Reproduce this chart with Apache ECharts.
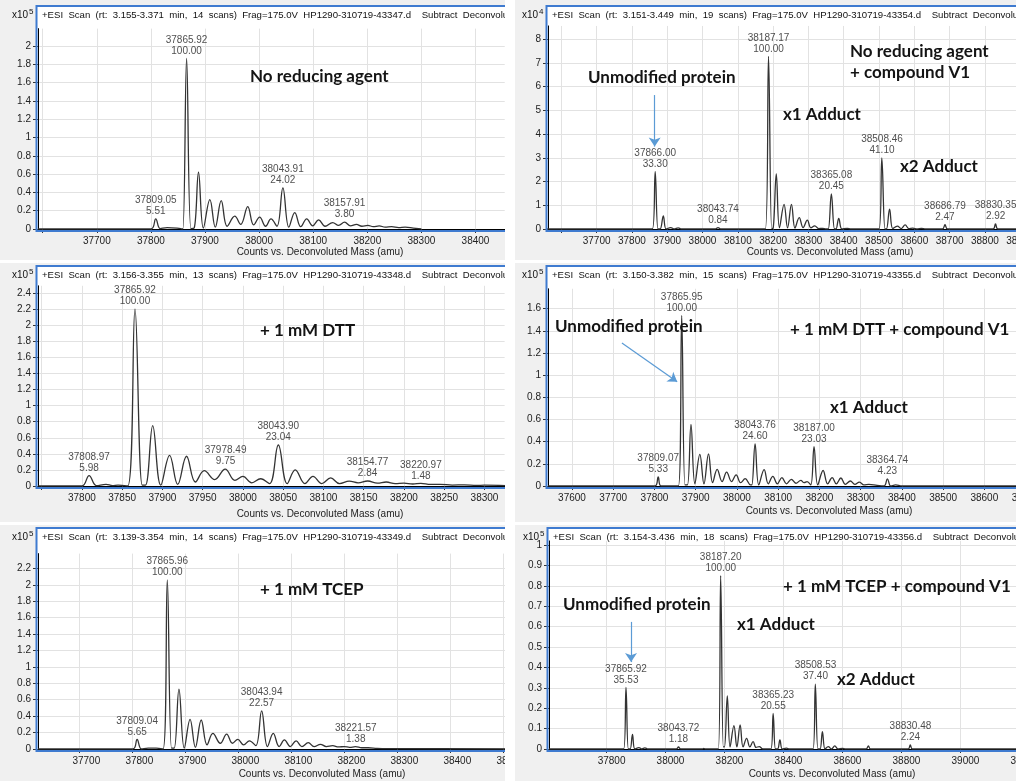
<!DOCTYPE html>
<html>
<head>
<meta charset="utf-8">
<title>Deconvoluted mass spectra</title>
<style>
  body { margin: 0; width: 1016px; height: 781px; background: #fff; position: relative; overflow: hidden; }
  .panel { position: absolute; background: #f0f0f0; overflow: hidden; }
  .panel > div { position: absolute; left: 0; top: 0; }
</style>
</head>
<body>
<div class="panel" id="p1" style="left:0;top:0;width:505px;height:260px"></div>
<div class="panel" id="p2" style="left:515px;top:0;width:501px;height:260px"></div>
<div class="panel" id="p3" style="left:0;top:263px;width:505px;height:259px"></div>
<div class="panel" id="p4" style="left:515px;top:263px;width:501px;height:259px"></div>
<div class="panel" id="p5" style="left:0;top:525px;width:505px;height:256px"></div>
<div class="panel" id="p6" style="left:515px;top:525px;width:501px;height:256px"></div>

<script src="https://cdn.jsdelivr.net/npm/echarts/dist/echarts.min.js"></script>
<script>
// spectra: [mass (amu), counts]
// no reducing agent (x10^5)
const specNoRed = [[37591,0],[37800,0],[37809,0.11],[37817,0.005],[37830,0.015],[37855,0.005],[37859,0],[37866,1.865],[37874,0.005],[37880,0.01],[37888,0.62],[37897,0.01],[37909,0.32],[37919,0.02],[37930,0.31],[37941,0.03],[37955,0.14],[37966,0.05],[37979,0.245],[37990,0.045],[38001,0.13],[38012,0.03],[38022,0.11],[38033,0.03],[38044,0.45],[38055,0.02],[38066,0.18],[38077,0.025],[38088,0.11],[38099,0.035],[38110,0.10],[38122,0.03],[38136,0.07],[38147,0.04],[38158,0.075],[38169,0.035],[38180,0.05],[38190,0.03],[38201,0.04],[38211,0.025],[38222,0.035],[38233,0.02],[38245,0.025],[38258,0.015],[38270,0.02],[38285,0.01],[38300,0]];
// no reducing agent + compound V1 (x10^4)
const specNoRedV1 = [[37555,0],[37858,0],[37866,2.42],[37874,0],[37880,0],[37889,0.55],[37897,0],[37910,0.06],[37920,0],[37931,0.05],[37940,0],[38036,0],[38044,0.06],[38052,0],[38178,0],[38187,7.27],[38196,0.02],[38200,0.03],[38209,2.32],[38218,0.05],[38231,1.04],[38241,0.05],[38252,1.04],[38262,0.04],[38274,0.48],[38285,0.06],[38297,0.37],[38307,0.05],[38318,0.13],[38329,0.02],[38340,0.03],[38350,0],[38356,0],[38365,1.48],[38374,0],[38378,0],[38386,0.45],[38395,0],[38410,0.03],[38420,0],[38500,0],[38508,2.99],[38517,0],[38521,0],[38530,0.84],[38539,0.02],[38552,0.12],[38563,0.02],[38574,0.17],[38585,0.01],[38596,0.04],[38608,0],[38620,0.03],[38632,0],[38680,0],[38687,0.18],[38694,0],[38823,0],[38830,0.21],[38837,0],[38950,0]];
// + 1 mM DTT (x10^5)
const specDtt = [[37746,0],[37800,0],[37809,0.13],[37818,0.005],[37830,0.02],[37838,0.005],[37845,0.01],[37857,0],[37866,2.2],[37875,0.01],[37879,0.01],[37888,0.75],[37898,0.01],[37909,0.38],[37919,0.02],[37930,0.37],[37941,0.05],[37952,0.19],[37965,0.08],[37978,0.21],[37990,0.07],[38000,0.12],[38011,0.04],[38022,0.09],[38033,0.03],[38044,0.51],[38055,0.03],[38065,0.2],[38077,0.03],[38087,0.12],[38098,0.03],[38109,0.1],[38120,0.03],[38132,0.06],[38143,0.04],[38155,0.062],[38167,0.035],[38178,0.05],[38189,0.03],[38200,0.035],[38211,0.025],[38221,0.033],[38233,0.02],[38245,0.02],[38260,0.012],[38275,0.015],[38290,0.008],[38300,0.01],[38326,0.005]];
// + 1 mM DTT + compound V1 (x10^5)
const specDttV1 = [[37542,0],[37801,0],[37809,0.082],[37816,0],[37858,0],[37866,1.54],[37874,0.01],[37880,0.01],[37888.5,0.556],[37898,0.02],[37910,0.286],[37920,0.02],[37931,0.29],[37941,0.03],[37952,0.15],[37964,0.04],[37975,0.126],[37987,0.04],[37998,0.1],[38009,0.03],[38020,0.066],[38033,0.01],[38036,0.01],[38044,0.38],[38053,0.01],[38066,0.147],[38076,0.02],[38087,0.087],[38098,0.02],[38109,0.075],[38120,0.02],[38132,0.06],[38143,0.025],[38155,0.05],[38163,0.03],[38170,0.04],[38179,0.01],[38187,0.355],[38196,0.01],[38209,0.14],[38220,0.02],[38231,0.075],[38241,0.02],[38252,0.072],[38263,0.015],[38275,0.045],[38286,0.015],[38297,0.035],[38308,0.01],[38320,0.015],[38340,0.005],[38357,0],[38365,0.065],[38373,0],[38385,0.01],[38400,0],[38750,0]];
// + 1 mM TCEP (x10^5)
const specTcep = [[37622,0],[37801,0],[37809,0.116],[37817,0],[37830,0.01],[37845,0.01],[37858,0],[37866,2.06],[37874,0.01],[37879,0.01],[37888,0.73],[37898,0.01],[37909,0.36],[37919,0.02],[37930,0.353],[37941,0.05],[37952,0.19],[37966,0.07],[37978,0.18],[37989,0.07],[37999,0.118],[38010,0.05],[38021,0.1],[38033,0.04],[38044,0.465],[38055,0.03],[38066,0.19],[38077,0.03],[38087,0.11],[38098,0.03],[38109,0.1],[38120,0.03],[38132,0.077],[38143,0.03],[38155,0.057],[38166,0.03],[38178,0.04],[38189,0.025],[38200,0.03],[38210,0.02],[38221,0.028],[38233,0.015],[38245,0.015],[38262,0.008],[38280,0.005],[38560,0]];
// + 1 mM TCEP + compound V1 (x10^5)
const specTcepV1 = [[37605,0],[37858,0],[37866,0.302],[37874,0],[37880,0],[37888,0.072],[37896,0],[37910,0.007],[37920,0],[37930,0.006],[37940,0],[38037,0],[38044,0.01],[38051,0],[38125,0],[38130,0.003],[38135,0],[38179,0],[38187,0.85],[38196,0.01],[38200,0.01],[38209.5,0.26],[38219,0.01],[38232,0.115],[38242,0.01],[38253,0.118],[38263,0.01],[38275,0.052],[38286,0.01],[38297,0.036],[38307,0.008],[38318,0.012],[38330,0],[38357,0],[38365,0.175],[38373,0],[38380,0],[38388,0.044],[38396,0],[38410,0.004],[38420,0],[38500,0],[38508,0.318],[38517,0],[38524,0],[38532,0.085],[38541,0],[38552,0.012],[38563,0],[38574,0.015],[38585,0],[38600,0.003],[38610,0],[38680,0],[38688,0.015],[38695,0],[38823,0],[38830,0.0195],[38837,0],[39300,0]];

// labelled peaks: mass and relative abundance (%)
const peaksNoRed = [37809.05, 37865.92, 38043.91, 38157.91];
const pctNoRed = ['5.51', '100.00', '24.02', '3.80'];
const peaksNoRedV1 = [37866.00, 38043.74, 38187.17, 38365.08, 38508.46, 38686.79, 38830.35];
const pctNoRedV1 = ['33.30', '0.84', '100.00', '20.45', '41.10', '2.47', '2.92'];
const peaksDtt = [37808.97, 37865.92, 37978.49, 38043.90, 38154.77, 38220.97];
const pctDtt = ['5.98', '100.00', '9.75', '23.04', '2.84', '1.48'];
const peaksDttV1 = [37809.07, 37865.95, 38043.76, 38187.00, 38364.74];
const pctDttV1 = ['5.33', '100.00', '24.60', '23.03', '4.23'];
const peaksTcep = [37809.04, 37865.96, 38043.94, 38221.57];
const pctTcep = ['5.65', '100.00', '22.57', '1.38'];
const peaksTcepV1 = [37865.92, 38043.72, 38187.20, 38365.23, 38508.53, 38830.48];
const pctTcepV1 = ['35.53', '1.18', '100.00', '20.55', '37.40', '2.24'];

const scanInfo = [
  '+ESI  Scan  (rt:  3.155-3.371  min,  14  scans)  Frag=175.0V  HP1290-310719-43347.d    Subtract  Deconvoluted',
  '+ESI  Scan  (rt:  3.151-3.449  min,  19  scans)  Frag=175.0V  HP1290-310719-43354.d    Subtract  Deconvoluted',
  '+ESI  Scan  (rt:  3.156-3.355  min,  13  scans)  Frag=175.0V  HP1290-310719-43348.d    Subtract  Deconvoluted',
  '+ESI  Scan  (rt:  3.150-3.382  min,  15  scans)  Frag=175.0V  HP1290-310719-43355.d    Subtract  Deconvoluted',
  '+ESI  Scan  (rt:  3.139-3.354  min,  14  scans)  Frag=175.0V  HP1290-310719-43349.d    Subtract  Deconvoluted',
  '+ESI  Scan  (rt:  3.154-3.436  min,  18  scans)  Frag=175.0V  HP1290-310719-43356.d    Subtract  Deconvoluted'
];
const exponents = ['5', '4', '5', '5', '5', '5'];
const xTitle = 'Counts vs. Deconvoluted Mass (amu)';

// arrows to the unmodified protein peak, in data coordinates
const arrowNoRedV1 = [[37864.5, 5.64], [37864.5, 3.47]];
const arrowDttV1 = [[37721, 1.29], [37855, 0.94]];
const arrowTcepV1 = [[37883, 0.623], [37883, 0.426]];

// panel layout (page pixels); ppa = px per amu, ypu = px per y unit
const panels = [
  { id: 'p1', data: specNoRed, peaks: peaksNoRed, pct: pctNoRed, scan: scanInfo[0], exp: exponents[0],
    box: [0, 0, 505, 260], frameTop: 6, axisX: 38, axisY: 229,
    ref: [37866, 186.6], ppa: 0.541, xMax: 38454, xInt: 100, firstLabel: 37700, labelShift: 0,
    yMax: 2.19, ypu: 91.5, yInt: 0.2, titleAt: [320, 252], arrow: null,
    notes: [['No reducing agent', 250, 77]] },
  { id: 'p2', data: specNoRedV1, peaks: peaksNoRedV1, pct: pctNoRedV1, scan: scanInfo[1], exp: exponents[1],
    box: [515, 0, 501, 260], frameTop: 6, axisX: 548, axisY: 229,
    ref: [37866, 655.2], ppa: 0.353, xMax: 38950, xInt: 100, firstLabel: 37700, labelShift: 0,
    yMax: 8.55, ypu: 23.75, yInt: 1, titleAt: [830, 252], arrow: arrowNoRedV1,
    notes: [['Unmodified protein', 588, 78], ['No reducing agent', 850, 52], ['+ compound V1', 850, 73],
            ['x1 Adduct', 783, 115], ['x2 Adduct', 900, 167]] },
  { id: 'p3', data: specDtt, peaks: peaksDtt, pct: pctDtt, scan: scanInfo[2], exp: exponents[2],
    box: [0, 263, 505, 259], frameTop: 266, axisX: 38, axisY: 486,
    ref: [37866, 135], ppa: 0.8053, xMax: 38325, xInt: 50, firstLabel: 37800, labelShift: 0,
    yMax: 2.49, ypu: 80.4, yInt: 0.2, titleAt: [320, 514], arrow: null,
    notes: [['+ 1 mM DTT', 260, 331]] },
  { id: 'p4', data: specDttV1, peaks: peaksDttV1, pct: pctDttV1, scan: scanInfo[3], exp: exponents[3],
    box: [515, 263, 501, 259], frameTop: 266, axisX: 548, axisY: 486,
    ref: [37866, 681.7], ppa: 0.4123, xMax: 38750, xInt: 100, firstLabel: 37600, labelShift: 0,
    yMax: 1.78, ypu: 110.8, yInt: 0.2, titleAt: [829, 511], arrow: arrowDttV1,
    notes: [['Unmodified protein', 555, 327], ['+ 1 mM DTT + compound V1', 790, 330], ['x1 Adduct', 830, 408]] },
  { id: 'p5', data: specTcep, peaks: peaksTcep, pct: pctTcep, scan: scanInfo[4], exp: exponents[4],
    box: [0, 525, 505, 256], frameTop: 528, axisX: 38, axisY: 749,
    ref: [37866, 167.3], ppa: 0.53, xMax: 38560, xInt: 100, firstLabel: 37700, labelShift: 7,
    yMax: 2.38, ypu: 82.1, yInt: 0.2, titleAt: [322, 774], arrow: null,
    notes: [['+ 1 mM TCEP', 260, 590]] },
  { id: 'p6', data: specTcepV1, peaks: peaksTcepV1, pct: pctTcepV1, scan: scanInfo[5], exp: exponents[5],
    box: [515, 525, 501, 256], frameTop: 528, axisX: 549, axisY: 749,
    ref: [37866, 626], ppa: 0.2949, xMax: 39300, xInt: 200, firstLabel: 37800, labelShift: 5,
    yMax: 1.02, ypu: 204, yInt: 0.1, titleAt: [832, 774], arrow: arrowTcepV1,
    notes: [['Unmodified protein', 563, 605], ['+ 1 mM TCEP + compound V1', 783, 587],
            ['x1 Adduct', 737, 625], ['x2 Adduct', 837, 680]] }
];

const SMALL = 'Liberation Sans';
const BOLD = 'bold 17px Lato';

// height of the curve at a labelled peak
function peakHeight(data, m) {
  let best = 0;
  data.forEach(d => { if (Math.abs(d[0] - m) < 4 && d[1] > best) best = d[1]; });
  return best;
}

function buildPanel(p) {
  const [bx, by, bw, bh] = p.box;
  const xMin = p.ref[0] - (p.ref[1] - p.axisX) / p.ppa;
  const rightPx = p.axisX + (p.xMax - xMin) * p.ppa;
  const gridTop = p.axisY - p.yMax * p.ypu;

  // the chart canvas is wider than the panel; the panel clips it like the cropped original
  const innerW = Math.max(bw, Math.ceil(rightPx - bx) + 40);
  const holder = document.createElement('div');
  holder.style.width = innerW + 'px';
  holder.style.height = bh + 'px';
  document.getElementById(p.id).appendChild(holder);
  const chart = echarts.init(holder);

  const labels = p.peaks.map((m, i) => [m, peakHeight(p.data, m), m.toFixed(2), p.pct[i]]);

  const gl = p.axisX - bx, gt = gridTop - by, gb = p.axisY - by, ft = p.frameTop - by;
  const elements = [
    // white plot field with the blue frame round it
    { type: 'rect', silent: true, z: -10,
      shape: { x: gl - 2, y: ft, width: 2000, height: gb - ft + 3 },
      style: { fill: '#ffffff' } },
    { type: 'rect', silent: true, z: 50,
      shape: { x: gl - 1.5, y: ft, width: 2000, height: gb - ft + 2 },
      style: { fill: 'none', stroke: '#3f7bd0', lineWidth: 2 } },
    { type: 'text', silent: true, z: 51, x: gl + 4, y: ft + 9,
      style: { text: p.scan, font: '9.6px "' + SMALL + '"', fill: '#111', verticalAlign: 'middle' } },
    { type: 'text', silent: true, z: 51, x: gl - 10, y: ft + 9,
      style: { text: 'x10', font: '10px "' + SMALL + '"', fill: '#111', align: 'right', verticalAlign: 'middle' } },
    { type: 'text', silent: true, z: 51, x: gl - 9, y: ft + 6,
      style: { text: p.exp, font: '8px "' + SMALL + '"', fill: '#111', align: 'left', verticalAlign: 'middle' } },
    { type: 'text', silent: true, z: 51, x: p.titleAt[0] - bx, y: p.titleAt[1] - by,
      style: { text: xTitle, font: '10px "' + SMALL + '"', fill: '#222', align: 'center', verticalAlign: 'middle' } }
  ];
  p.notes.forEach(n => {
    elements.push({ type: 'text', silent: true, z: 52, x: n[1] - bx, y: n[2] - by,
      style: { text: n[0], font: BOLD, fill: '#141414', verticalAlign: 'middle' } });
  });

  const option = {
    animation: false,
    textStyle: { fontFamily: SMALL },
    grid: { left: gl, top: gt, right: innerW - (rightPx - bx), bottom: bh - gb, show: false,
            containLabel: false, outerBoundsMode: 'none' },
    xAxis: {
      type: 'value', min: xMin, max: p.xMax,
      splitNumber: 12, minInterval: p.xInt, maxInterval: p.xInt,
      axisLine: { show: true, lineStyle: { color: '#000', width: 1 } },
      axisTick: { show: true, length: 4, lineStyle: { color: '#333' } },
      axisLabel: {
        fontSize: 10, color: '#222', margin: 7, showMinLabel: false, showMaxLabel: false,
        padding: [0, 0, 0, 2 * p.labelShift],
        formatter: v => (v < p.firstLabel ? '' : String(v))
      },
      splitLine: { show: true, showMinLine: false, showMaxLine: false, lineStyle: { color: '#e2e2e2', width: 1 } }
    },
    yAxis: {
      type: 'value', min: 0, max: p.yMax,
      splitNumber: 12, minInterval: p.yInt, maxInterval: p.yInt,
      axisLine: { show: true, lineStyle: { color: '#000', width: 1 } },
      axisTick: { show: true, length: 5, lineStyle: { color: '#333' } },
      axisLabel: { fontSize: 10, color: '#222', margin: 7, showMaxLabel: false },
      splitLine: { show: true, showMinLine: false, showMaxLine: false, lineStyle: { color: '#e2e2e2', width: 1 } }
    },
    graphic: { elements: elements },
    series: [
      {
        type: 'line', data: p.data, showSymbol: false, smooth: 0.4, silent: true, z: 3,
        lineStyle: { color: '#333333', width: 1.3 },
        markLine: p.arrow ? {
          silent: true, symbol: ['none', 'arrow'], symbolSize: 9,
          lineStyle: { color: '#5b9bd5', width: 1.2, type: 'solid' },
          label: { show: false },
          data: [[{ coord: p.arrow[0] }, { coord: p.arrow[1] }]]
        } : undefined
      },
      {
        type: 'scatter', data: labels, symbolSize: 0, silent: true, z: 4,
        label: {
          show: true, position: 'top', distance: 2, fontSize: 10, lineHeight: 11, color: '#222',
          formatter: prm => prm.value[2] + '\n' + prm.value[3]
        }
      }
    ]
  };
  chart.setOption(option);
  return chart;
}

const charts = panels.map(buildPanel);
</script>
</body>
</html>
